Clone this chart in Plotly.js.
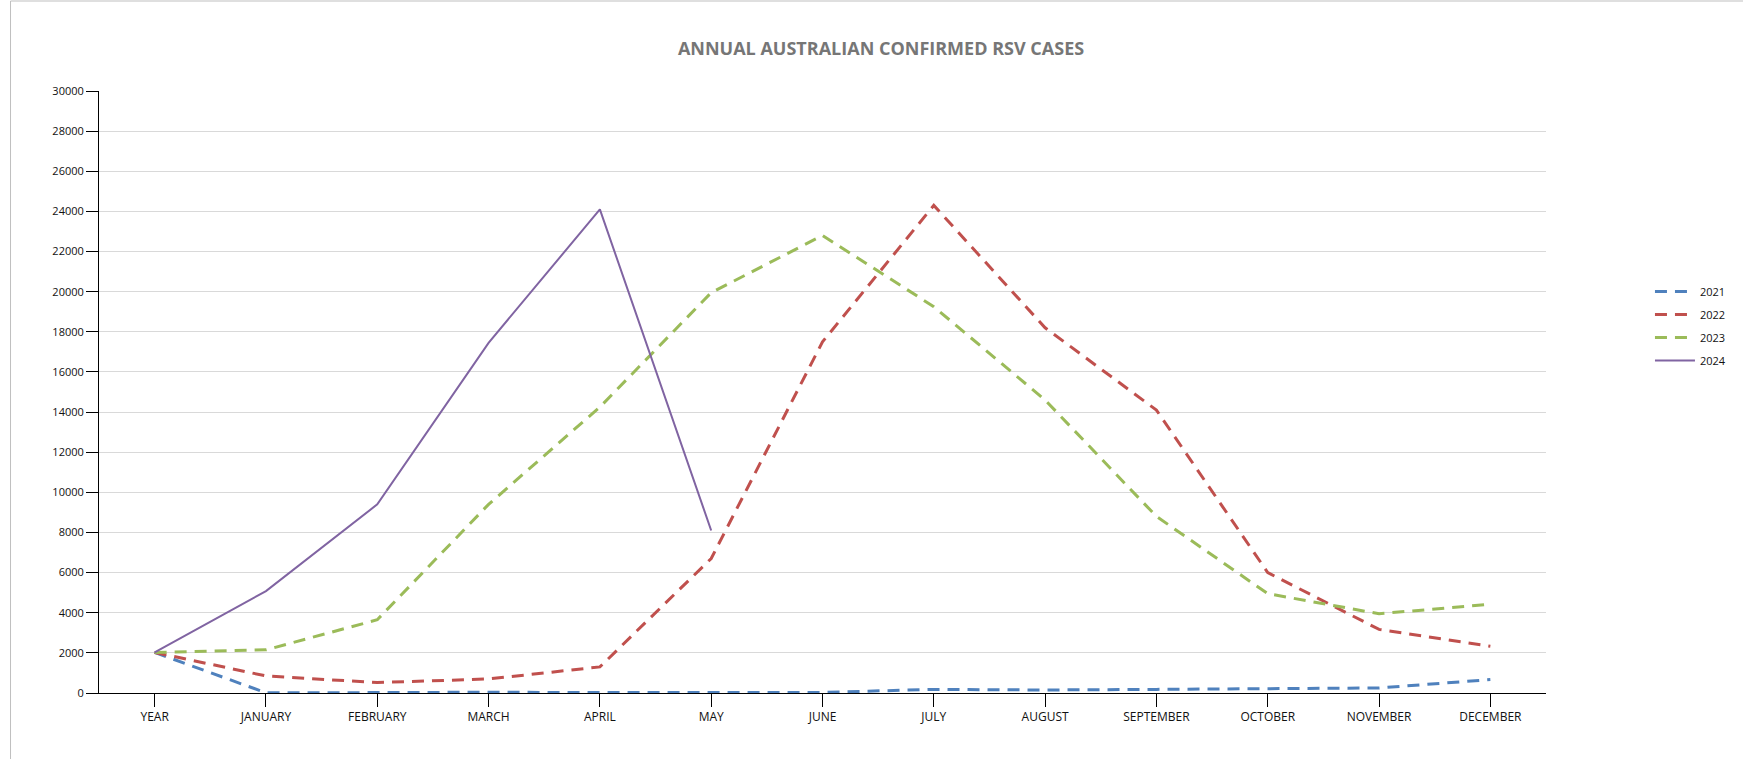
<!DOCTYPE html>
<html>
<head>
<meta charset="utf-8">
<script src="https://cdn.plot.ly/plotly-3.0.1.min.js"></script>
<style>html,body{margin:0;padding:0;background:#fff;}#chart{width:1743px;height:759px;}</style>
</head>
<body>
<div id="chart"></div>
<script>
const categories = ["YEAR","JANUARY","FEBRUARY","MARCH","APRIL","MAY","JUNE","JULY","AUGUST","SEPTEMBER","OCTOBER","NOVEMBER","DECEMBER"];
const seriesNames = ["2021","2022","2023","2024"];
const values2021 = [2021, 10, 20, 40, 20, 10, 30, 180, 150, 180, 220, 250, 670];
const values2022 = [2022, 850, 520, 700, 1300, 6700, 17500, 24300, 18200, 14100, 6000, 3170, 2330];
const values2023 = [2023, 2150, 3650, 9400, 14250, 19950, 22800, 19250, 14600, 8800, 4950, 3950, 4420];
const values2024 = [2024, 5080, 9400, 17450, 24100, 8100];
const yTicks = [0,2000,4000,6000,8000,10000,12000,14000,16000,18000,20000,22000,24000,26000,28000,30000];

const colors = ["#4F81BD","#C0504D","#9BBB59","#8064A2"];
const allValues = [values2021, values2022, values2023, values2024];

const traces = allValues.map((vals, i) => ({
  type: "scatter",
  mode: "lines",
  name: seriesNames[i],
  legendgroup: "g" + i,
  x: categories.slice(0, vals.length),
  y: vals,
  line: i < 3
    ? {color: colors[i], width: 3, dash: "12px,8px"}
    : {color: colors[i], width: 2},
  hoverinfo: "x+y+name"
}));

const L = 98.5, R = 197, T = 91, B = 66;
const pw = 1743 - L - R, ph = 759 - T - B;

const layout = {
  width: 1743, height: 759,
  margin: {l: L, r: R, t: T, b: B, pad: 0},
  paper_bgcolor: "#ffffff",
  plot_bgcolor: "#ffffff",
  font: {family: "Open Sans, Arial, sans-serif", size: 11, color: "#222"},
  title: {
    text: "ANNUAL AUSTRALIAN CONFIRMED RSV CASES",
    font: {family: "Open Sans, Arial, sans-serif", size: 18, color: "#767676", weight: 700},
    xref: "container", x: 881/1743, xanchor: "center",
    yref: "container", y: 1 - 49/759, yanchor: "middle"
  },
  xaxis: {
    type: "category",
    categoryorder: "array",
    categoryarray: categories,
    range: [-0.5, 12.5],
    showgrid: false,
    showline: true, linecolor: "#000", linewidth: 1,
    ticks: "outside", ticklen: 13, tickcolor: "#000", tickwidth: 1,
    tickfont: {family: "Liberation Sans Narrow, Arial Narrow, Open Sans, sans-serif", size: 12, color: "#111"},
    zeroline: false, fixedrange: true
  },
  yaxis: {
    range: [0, 30000],
    tickmode: "array",
    tickvals: yTicks,
    ticktext: yTicks.map(v => String(v)),
    showgrid: true, gridcolor: "#d9d9d9", gridwidth: 1,
    showline: true, linecolor: "#000", linewidth: 1,
    ticks: "outside", ticklen: 12, tickcolor: "#000", tickwidth: 1,
    tickfont: {family: "Open Sans, Arial, sans-serif", size: 11, color: "#111"},
    zeroline: false, fixedrange: true
  },
  showlegend: true,
  legend: {
    x: (1650 - L) / pw, xanchor: "left",
    y: 1 - (277 - T) / ph, yanchor: "top",
    font: {family: "Open Sans, Arial, sans-serif", size: 11, color: "#111"},
    bgcolor: "rgba(0,0,0,0)",
    borderwidth: 0,
    traceorder: "grouped",
    tracegroupgap: 4,
    itemwidth: 40
  },
  shapes: [{
    type: "rect", xref: "paper", yref: "paper",
    x0: (10 - L) / pw, x1: (1760 - L) / pw,
    y0: -0.3, y1: 1 + (T - 1) / ph,
    line: {color: "#bfbfbf", width: 1},
    fillcolor: "rgba(0,0,0,0)",
    layer: "below"
  }]
};

Plotly.newPlot("chart", traces, layout, {displayModeBar: false, staticPlot: true});
</script>
</body>
</html>
